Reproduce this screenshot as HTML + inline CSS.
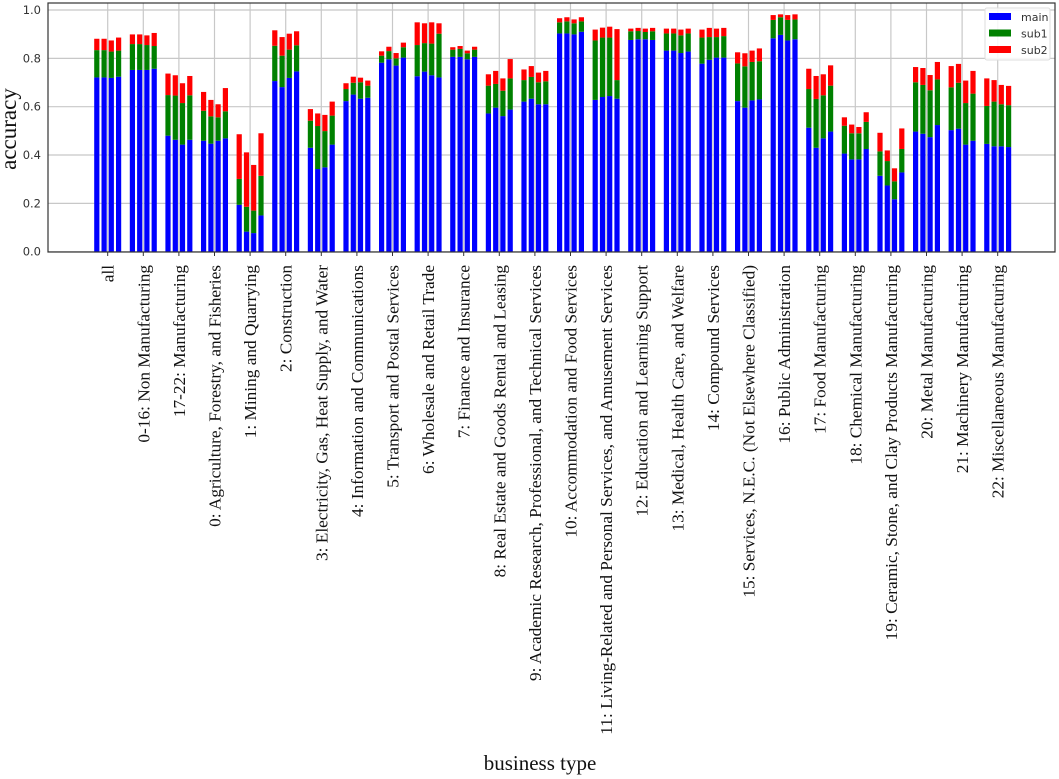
<!DOCTYPE html>
<html><head><meta charset="utf-8"><style>
body{margin:0;background:#fff;}
svg{display:block;}
.tk{font-family:"DejaVu Sans","Liberation Sans",sans-serif;font-size:11.5px;fill:#333;}
.cat{font-family:"Liberation Serif",serif;font-size:17.3px;fill:#111;}
.lg{font-family:"DejaVu Sans","Liberation Sans",sans-serif;font-size:11px;fill:#333;}
</style></head><body>
<svg id="chart" width="1059" height="779" xmlns="http://www.w3.org/2000/svg"></svg>
<script>
const categories=["all","0-16: Non Manufacturing","17-22: Manufacturing","0: Agriculture, Forestry, and Fisheries","1: Mining and Quarrying","2: Construction","3: Electricity, Gas, Heat Supply, and Water","4: Information and Communications","5: Transport and Postal Services","6: Wholesale and Retail Trade","7: Finance and Insurance","8: Real Estate and Goods Rental and Leasing","9: Academic Research, Professional, and Technical Services","10: Accommodation and Food Services","11: Living-Related and Personal Services, and Amusement Services","12: Education and Learning Support","13: Medical, Health Care, and Welfare","14: Compound Services","15: Services, N.E.C. (Not Elsewhere Classified)","16: Public Administration","17: Food Manufacturing","18: Chemical Manufacturing","19: Ceramic, Stone, and Clay Products Manufacturing","20: Metal Manufacturing","21: Machinery Manufacturing","22: Miscellaneous Manufacturing"];
// cumulative levels: main, main+sub1, main+sub1+sub2 (4 bars per category)
const mainVals=[[.721,.721,.719,.724],[.752,.752,.752,.757],[.480,.463,.443,.463],[.459,.447,.459,.469],[.194,.083,.077,.150],[.706,.681,.719,.746],[.430,.342,.349,.443],[.623,.650,.633,.637],[.782,.796,.770,.803],[.726,.745,.730,.721],[.806,.806,.796,.806],[.572,.596,.561,.588],[.621,.633,.610,.610],[.903,.903,.899,.910],[.628,.640,.644,.633],[.876,.879,.879,.876],[.832,.832,.822,.828],[.778,.794,.803,.803],[.623,.596,.626,.630],[.883,.897,.874,.879],[.513,.430,.469,.497],[.406,.382,.382,.425],[.314,.274,.217,.328],[.497,.488,.474,.524],[.503,.509,.443,.459],[.446,.436,.436,.433]];
const sub1Top=[[.834,.834,.828,.832],[.859,.859,.855,.851],[.648,.646,.615,.647],[.583,.560,.556,.581],[.301,.186,.170,.314],[.852,.811,.836,.854],[.542,.520,.499,.563],[.673,.699,.701,.687],[.811,.830,.800,.846],[.855,.863,.861,.902],[.836,.839,.821,.836],[.687,.694,.666,.717],[.710,.723,.701,.705],[.949,.953,.945,.953],[.874,.886,.886,.710],[.912,.913,.909,.912],[.903,.903,.895,.903],[.886,.888,.888,.892],[.779,.767,.785,.788],[.959,.970,.959,.961],[.673,.632,.647,.687],[.521,.490,.490,.537],[.415,.375,.291,.425],[.701,.690,.668,.713],[.680,.699,.615,.654],[.603,.621,.610,.606]];
const sub2Top=[[.881,.881,.874,.886],[.899,.899,.895,.905],[.737,.730,.697,.727],[.661,.628,.610,.677],[.486,.411,.359,.490],[.916,.888,.902,.912],[.590,.572,.566,.621],[.697,.724,.720,.708],[.829,.848,.822,.865],[.949,.945,.949,.945],[.846,.851,.832,.848],[.734,.748,.717,.797],[.754,.768,.741,.748],[.966,.970,.961,.970],[.919,.927,.931,.921],[.923,.926,.923,.926],[.923,.923,.919,.923],[.919,.926,.923,.926],[.825,.821,.832,.841],[.979,.982,.979,.982],[.757,.727,.734,.771],[.556,.526,.516,.577],[.492,.419,.345,.510],[.764,.760,.731,.785],[.768,.777,.708,.748],[.717,.710,.690,.686]];
const yTicks=[0,0.2,0.4,0.6,0.8,1.0];
const yTickLabels=["0.0","0.2","0.4","0.6","0.8","1.0"];
const seriesNames=["main","sub1","sub2"];
const colors=["#0000ff","#008000","#ff0000"];

const NS="http://www.w3.org/2000/svg";
const svg=document.getElementById('chart');
const L=48,R=1055,T=3,B=252;
const y=v=>251.7-v*241.7;
const x=i=>107.7+i*35.6;
const offs=[-10.9,-3.6,3.6,10.9],bw=5.2;
function mk(tag,a,parent){const e=document.createElementNS(NS,tag);for(const k in a)e.setAttribute(k,a[k]);(parent||svg).appendChild(e);return e;}
yTicks.forEach((t,i)=>{
  const g=mk('line',{x1:L,x2:R,y1:y(t),y2:y(t),stroke:'#c8c8c8','stroke-width':1.2});
  
  
  const tl=mk('text',{x:L-7,y:y(t)+4,'text-anchor':'end',class:'tk'});tl.textContent=yTickLabels[i];
  
  
});
categories.forEach((c,i)=>{
  const g=mk('line',{x1:x(i),x2:x(i),y1:T,y2:B,stroke:'#c8c8c8','stroke-width':1.2});
  
  
});
categories.forEach((c,i)=>{
  for(let j=0;j<4;j++){
    const levels=[0,mainVals[i][j],sub1Top[i][j],sub2Top[i][j]];
    for(let s=0;s<3;s++){
      const r=mk('rect',{x:x(i)+offs[j]-bw/2,y:y(levels[s+1]),width:bw,height:Math.max(0,y(levels[s])-y(levels[s+1])),fill:colors[s]});
      
      
    }
  }
  const tk=mk('line',{x1:x(i),x2:x(i),y1:B,y2:B+4,stroke:'#333'});
  
  
  const t=mk('text',{transform:`translate(${x(i)+6},${B+13}) rotate(-90)`,'text-anchor':'end',class:'cat'});
  t.textContent=c;
  
  
});
const fr=mk('rect',{x:L,y:T,width:R-L,height:B-T,fill:'none',stroke:'#333','stroke-width':1.2});


const lg=mk('g',{});


mk('rect',{x:985,y:8,width:65,height:52,fill:'#fff','fill-opacity':0.85,stroke:'#ddd',rx:2},lg);
seriesNames.forEach((n,s)=>{
  const p=mk('rect',{x:989,y:13+s*16.5,width:22,height:7,fill:colors[s]},lg);
  
  
  const t=mk('text',{x:1021,y:21+s*16.5,class:'lg'},lg);t.textContent=n;
  
  
});
</script>
<div style="position:absolute;left:0;top:0;width:1059px;height:779px;pointer-events:none">
<div style="position:absolute;left:-37px;top:116px;width:92px;height:26px;line-height:26px;text-align:center;transform:rotate(-90deg);font-family:'Liberation Serif',serif;font-size:23px;color:#111">accuracy</div>
<div style="position:absolute;left:440px;top:751px;width:200px;text-align:center;font-family:'Liberation Serif',serif;font-size:21px;color:#111">business type</div>
</div>
</body></html>
